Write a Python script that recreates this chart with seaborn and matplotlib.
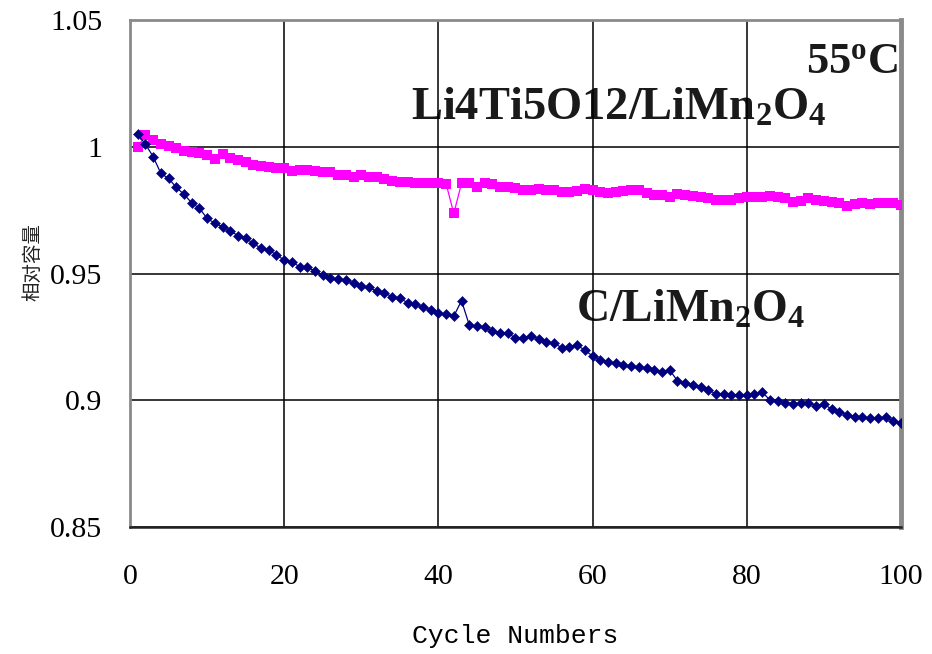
import matplotlib
matplotlib.use("Agg")
import matplotlib.pyplot as plt
import seaborn as sns
import pandas as pd

# Capacity retention at 55 °C, cycles 1-100
cycles = list(range(1, 101))

c_limn2o4 = [
    1.0049, 1.0010, 0.9961, 0.9895, 0.9875, 0.9840, 0.9812, 0.9779, 0.9757, 0.9718,
    0.9698, 0.9685, 0.9669, 0.9649, 0.9639, 0.9619, 0.9599, 0.9593, 0.9573, 0.9553,
    0.9545, 0.9527, 0.9524, 0.9510, 0.9494, 0.9481, 0.9478, 0.9474, 0.9461, 0.9452,
    0.9445, 0.9430, 0.9422, 0.9409, 0.9402, 0.9385, 0.9378, 0.9367, 0.9356, 0.9345,
    0.9340, 0.9332, 0.9393, 0.9297, 0.9292, 0.9290, 0.9272, 0.9266, 0.9264, 0.9246,
    0.9244, 0.9254, 0.9241, 0.9231, 0.9225, 0.9207, 0.9211, 0.9216, 0.9198, 0.9174,
    0.9160, 0.9152, 0.9146, 0.9139, 0.9134, 0.9131, 0.9126, 0.9119, 0.9113, 0.9119,
    0.9077, 0.9070, 0.9062, 0.9052, 0.9042, 0.9024, 0.9025, 0.9022, 0.9019, 0.9019,
    0.9024, 0.9032, 0.9001, 0.8997, 0.8990, 0.8987, 0.8988, 0.8990, 0.8978, 0.8985,
    0.8965, 0.8955, 0.8942, 0.8933, 0.8935, 0.8929, 0.8929, 0.8933, 0.8919, 0.8909,
]

lto_limn2o4 = [
    1.0000, 1.0046, 1.0027, 1.0010, 1.0002, 0.9996, 0.9983, 0.9981, 0.9974, 0.9966,
    0.9950, 0.9970, 0.9956, 0.9948, 0.9941, 0.9928, 0.9925, 0.9921, 0.9917, 0.9915,
    0.9906, 0.9908, 0.9908, 0.9906, 0.9900, 0.9902, 0.9889, 0.9889, 0.9880, 0.9890,
    0.9882, 0.9879, 0.9872, 0.9866, 0.9862, 0.9862, 0.9858, 0.9858, 0.9856, 0.9856,
    0.9854, 0.9737, 0.9856, 0.9856, 0.9841, 0.9856, 0.9855, 0.9842, 0.9840, 0.9836,
    0.9830, 0.9829, 0.9835, 0.9829, 0.9829, 0.9823, 0.9823, 0.9827, 0.9834, 0.9829,
    0.9823, 0.9819, 0.9822, 0.9826, 0.9831, 0.9829, 0.9816, 0.9810, 0.9809, 0.9801,
    0.9815, 0.9810, 0.9806, 0.9803, 0.9797, 0.9790, 0.9790, 0.9790, 0.9797, 0.9803,
    0.9803, 0.9803, 0.9806, 0.9803, 0.9797, 0.9783, 0.9787, 0.9797, 0.9790, 0.9787,
    0.9783, 0.9777, 0.9766, 0.9774, 0.9777, 0.9774, 0.9777, 0.9777, 0.9777, 0.9770,
]

x_ticks = [0, 20, 40, 60, 80, 100]
y_ticks = [0.85, 0.90, 0.95, 1.00, 1.05]
y_ticklabels = ["0.85", "0.9", "0.95", "1", "1.05"]

sns.set_theme(style="white")
plt.rcParams["font.family"] = ["Liberation Serif", "DejaVu Serif"]
plt.rcParams["mathtext.fontset"] = "custom"
plt.rcParams["mathtext.rm"] = "Liberation Serif:bold"
plt.rcParams["mathtext.bf"] = "Liberation Serif:bold"
plt.rcParams["mathtext.it"] = "Liberation Serif:bold:italic"

df_c = pd.DataFrame({"cycle": cycles, "capacity": c_limn2o4})
df_lto = pd.DataFrame({"cycle": cycles, "capacity": lto_limn2o4})

fig, ax = plt.subplots(figsize=(9.32, 6.54), dpi=100)
fig.subplots_adjust(left=0.1395, right=0.9667, top=0.9694, bottom=0.1942)

sns.lineplot(data=df_lto, x="cycle", y="capacity", ax=ax, color="#FF00FF",
             linewidth=0.9, marker="s", markersize=6.5, markeredgewidth=0,
             markerfacecolor="#FF00FF", zorder=3)
sns.lineplot(data=df_c, x="cycle", y="capacity", ax=ax, color="#000080",
             linewidth=0.9, marker="D", markersize=5.4, markeredgewidth=0.4,
             markeredgecolor="#000080", markerfacecolor="#000080", zorder=4)

ax.set_xlim(0, 100)
ax.set_ylim(0.85, 1.05)
ax.set_xticks(x_ticks)
ax.set_yticks(y_ticks)
ax.set_yticklabels(y_ticklabels)
ax.tick_params(axis="both", length=0, labelsize=21.5, colors="black")
ax.tick_params(axis="x", pad=27)
ax.tick_params(axis="y", pad=20)

# grid drawn over the annotation text, beneath the data
ax.set_axisbelow(True)
ax.grid(True, color="black", linewidth=1.1)

for side in ["left", "top"]:
    ax.spines[side].set_color("#8a8a8a")
    ax.spines[side].set_linewidth(2.0)
ax.spines["right"].set_color("#8a8a8a")
ax.spines["right"].set_linewidth(3.5)
ax.spines["bottom"].set_color("#222222")
ax.spines["bottom"].set_linewidth(1.8)

ax.set_xlabel("Cycle Numbers", family=["Liberation Mono", "DejaVu Sans Mono"],
              fontsize=19, color="black")
ax.xaxis.set_label_coords(0.5, -0.215)
ax.xaxis.label.set_va("center")
ax.set_ylabel("相对容量", family=["Noto Sans CJK SC", "DejaVu Sans"],
              fontsize=14, color="#222222")
ax.yaxis.set_label_coords(-0.126, 0.523)
ax.yaxis.label.set_va("center")

ax.text(99.6, 1.0291, "55$^\\mathrm{o}$C", fontsize=32, fontweight="bold",
        ha="right", va="baseline", color="#1a1a1a", zorder=0.4)
ax.text(36.5, 1.0106, "Li4Ti5O12/LiMn$_2$O$_4$", fontsize=33.5, fontweight="bold",
        ha="left", va="baseline", color="#1a1a1a", zorder=0.4)
ax.text(57.9, 0.9309, "C/LiMn$_2$O$_4$", fontsize=33, fontweight="bold",
        ha="left", va="baseline", color="#1a1a1a", zorder=0.4)

fig.savefig("out.png", dpi=100)
